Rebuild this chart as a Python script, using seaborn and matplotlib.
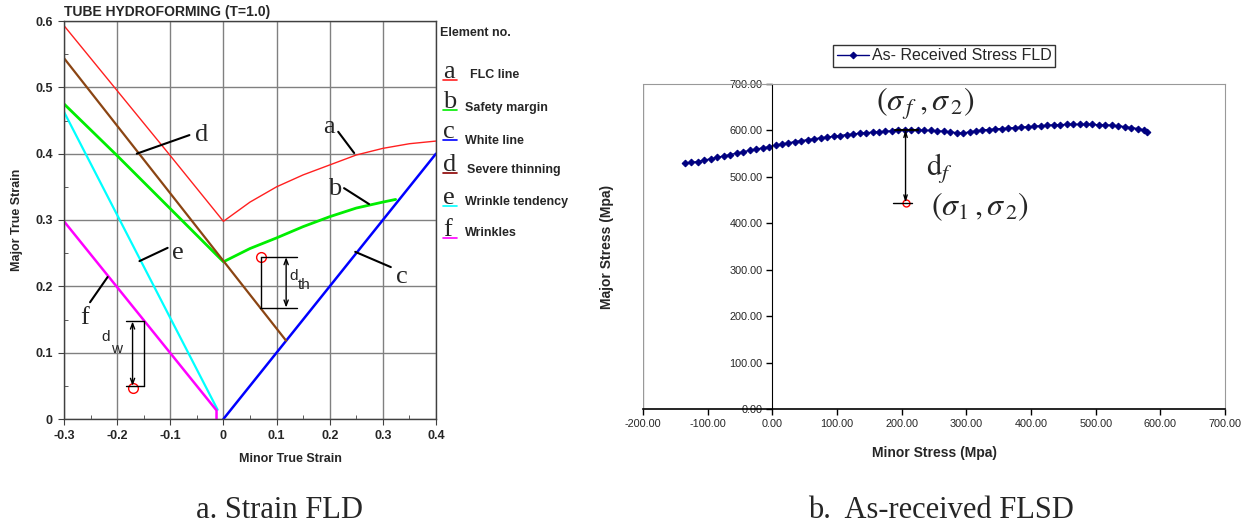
import matplotlib
matplotlib.use('Agg')
import matplotlib.pyplot as plt
import seaborn as sns
import pandas as pd
from matplotlib.lines import Line2D
from matplotlib.ticker import MultipleLocator, FormatStrFormatter

# ---------------- Strain FLD data (left) ----------------
flc_x = [-0.3, -0.2, -0.1, 0.0, 0.05, 0.1, 0.15, 0.2, 0.25, 0.3, 0.35, 0.4]
flc_y = [0.593, 0.495, 0.397, 0.298, 0.327, 0.350, 0.368, 0.383, 0.398, 0.408, 0.415, 0.419]
safety_x = [-0.3, -0.2, -0.1, 0.0, 0.05, 0.1, 0.15, 0.2, 0.25, 0.3, 0.324]
safety_y = [0.475, 0.397, 0.317, 0.237, 0.257, 0.273, 0.290, 0.305, 0.318, 0.327, 0.331]
white_x = [0.0, 0.4]
white_y = [0.0, 0.4]
thin_x = [-0.3, 0.118]
thin_y = [0.544, 0.118]
wtend_x = [-0.3, -0.011]
wtend_y = [0.463, 0.014]
wrink_x = [-0.3, -0.013, -0.013]
wrink_y = [0.298, 0.013, 0.0]

strain_lines = ['a', 'b', 'c', 'd', 'e', 'f']
strain_names = ['FLC line', 'Safety margin', 'White line', 'Severe thinning',
                'Wrinkle tendency', 'Wrinkles']
strain_colors = ['#FF2020', '#00EE00', '#0000FF', '#8B4513', '#00FFFF', '#FF00FF']
legend_under = ['#FF2020', '#00EE00', '#0000FF', '#8B0000', '#00FFFF', '#FF00FF']
strain_widths = [1.0, 2.0, 1.8, 1.6, 1.6, 1.8]

# letter labels and leader lines (data coords)
letter_pos = {'a': (0.199, 0.440), 'b': (0.210, 0.347), 'c': (0.336, 0.214),
              'd': (-0.041, 0.428), 'e': (-0.086, 0.250), 'f': (-0.261, 0.152)}
leader = {'a': ((0.216, 0.246), (0.433, 0.401)), 'b': ((0.227, 0.274), (0.348, 0.324)),
          'c': ((0.315, 0.248), (0.229, 0.252)), 'd': ((-0.064, -0.163), (0.428, 0.400)),
          'e': ((-0.105, -0.158), (0.258, 0.238)), 'f': ((-0.251, -0.218), (0.176, 0.214))}

# distance markers
dth_point = (0.071, 0.244)
dth_low = 0.168
dw_point = (-0.171, 0.047)
dw_high = 0.147

# ---------------- Stress FLSD data (right) ----------------
minor_stress = [-135, -125, -115, -105, -95, -85, -75, -65, -55, -45, -35, -25, -15, -5,
                5, 15, 25, 35, 45, 55, 65, 75, 85, 95, 105, 115, 125, 135, 145, 155,
                165, 175, 185, 195, 205, 215, 225, 235, 245, 255, 265, 275, 285, 295,
                305, 315, 325, 335, 345, 355, 365, 375, 385, 395, 405, 415, 425, 435,
                445, 455, 465, 475, 485, 495, 505, 515, 525, 535, 545, 555, 565, 575, 580]
major_stress = [529, 531, 533, 536, 539, 542, 545, 548, 551, 554, 557, 560, 562, 565,
                568, 571, 573, 576, 578, 580, 582, 584, 586, 587, 589, 591, 592, 594, 595, 596,
                597, 598, 599, 600, 601, 601, 601, 600, 600, 599, 598, 597, 595, 594,
                597, 599, 601, 602, 603, 604, 605, 606, 607, 608, 609, 610, 611, 612,
                612, 613, 613, 613, 613, 613, 612, 612, 611, 610, 608, 606, 604, 601, 597]
df_point = (206, 444)
df_top = 602

# ---------------- style ----------------
sns.set_style('white')
plt.rcParams['font.family'] = ['Liberation Sans', 'DejaVu Sans']
plt.rcParams['mathtext.fontset'] = 'stix'
plt.rcParams['axes.unicode_minus'] = False

W, H = 1246, 531
fig = plt.figure(figsize=(W / 100, H / 100), dpi=100)
fig.patch.set_facecolor('white')


def fx(px):
    return px / W


def fy(py):
    return 1 - py / H


SERIF = ['Liberation Serif', 'DejaVu Serif']

# ================= LEFT =================
axL = fig.add_axes([fx(64), fy(419), 372 / W, 398 / H])
series = [(flc_x, flc_y), (safety_x, safety_y), (white_x, white_y),
          (thin_x, thin_y), (wtend_x, wtend_y), (wrink_x, wrink_y)]
for (xs, ys), c, lw in zip(series, strain_colors, strain_widths):
    d = pd.DataFrame({'x': xs, 'y': ys})
    sns.lineplot(data=d, x='x', y='y', ax=axL, color=c, lw=lw, sort=False,
                 estimator=None, legend=False)

axL.set_xlim(-0.3, 0.4)
axL.set_ylim(0, 0.6)
xt = [-0.3, -0.2, -0.1, 0.0, 0.1, 0.2, 0.3, 0.4]
yt = [0.0, 0.1, 0.2, 0.3, 0.4, 0.5, 0.6]
axL.set_xticks(xt)
axL.set_xticklabels(['0' if v == 0 else f'{v:.1f}' for v in xt], fontweight='bold', fontsize=9)
axL.set_yticks(yt)
axL.set_yticklabels(['0' if v == 0 else f'{v:.1f}' for v in yt], fontweight='bold', fontsize=9)
axL.xaxis.set_minor_locator(MultipleLocator(0.05))
axL.yaxis.set_minor_locator(MultipleLocator(0.05))
axL.grid(True, which='major', color='#808080', lw=1)
axL.tick_params(which='major', direction='out', length=4, color='#404040', pad=4)
axL.tick_params(which='minor', direction='in', length=3, color='#404040')
axL.tick_params(bottom=True, left=True, which='both')
for s in axL.spines.values():
    s.set_color('#404040')
    s.set_linewidth(1)
axL.set_xlabel('Minor True Strain', fontweight='bold', fontsize=9)
axL.set_ylabel('Major True Strain', fontweight='bold', fontsize=9)
axL.xaxis.set_label_coords(0.61, -0.085)
axL.yaxis.set_label_coords(-0.11, 0.5)

for k in strain_lines:
    x, y = letter_pos[k]
    axL.text(x, y, k, family=SERIF, fontsize=19, ha='center', va='center')
    lx, ly = leader[k]
    axL.plot(lx, ly, color='black', lw=1.5)

# d_th marker
axL.plot([dth_point[0]], [dth_point[1]], 'o', ms=7, mfc='none', mec='red', mew=1)
axL.plot([dth_point[0], 0.138], [dth_point[1], dth_point[1]], color='black', lw=1)
axL.plot([dth_point[0] - 0.003, 0.138], [dth_low, dth_low], color='black', lw=1)
axL.plot([dth_point[0], dth_point[0]], [dth_point[1], dth_low], color='black', lw=1)
axL.annotate('', xy=(0.118, dth_low), xytext=(0.118, dth_point[1]),
             arrowprops=dict(arrowstyle='<->,head_length=0.4,head_width=0.15', lw=1,
                             color='black', shrinkA=0, shrinkB=0))
axL.text(0.125, 0.215, 'd', fontsize=11, ha='left', va='center')
axL.text(0.140, 0.202, 'th', fontsize=11, ha='left', va='center')

# d_w marker
axL.plot([dw_point[0]], [dw_point[1]], 'o', ms=7, mfc='none', mec='red', mew=1)
axL.plot([-0.184, -0.150], [dw_high, dw_high], color='black', lw=1)
axL.plot([-0.184, -0.150], [0.050, 0.050], color='black', lw=1)
axL.plot([-0.150, -0.150], [dw_high, 0.050], color='black', lw=1)
axL.annotate('', xy=(dw_point[0], 0.050), xytext=(dw_point[0], dw_high),
             arrowprops=dict(arrowstyle='<->,head_length=0.4,head_width=0.15', lw=1,
                             color='black', shrinkA=0, shrinkB=0))
axL.text(-0.222, 0.124, 'd', fontsize=11, ha='center', va='center')
axL.text(-0.202, 0.106, 'w', fontsize=11, ha='center', va='center')

# title
fig.text(fx(64), fy(12), 'TUBE HYDROFORMING (T=1.0)', fontsize=10, fontweight='bold',
         ha='left', va='center')

# element legend
fig.text(fx(440), fy(33), 'Element no.', fontsize=9, fontweight='bold', ha='left', va='center')
letter_base = [78, 108, 138, 171, 204, 236]
name_y = [75, 108, 141, 170, 202, 233]
name_x = [470, 465, 465, 467, 465, 465]
for k, nm, ub, ny, nx, uc in zip(strain_lines, strain_names, letter_base, name_y, name_x,
                                 legend_under):
    fig.text(fx(443), fy(ub), k, family=SERIF, fontsize=19, ha='left', va='baseline')
    fig.add_artist(Line2D([fx(443), fx(457)], [fy(ub + 2), fy(ub + 2)], color=uc, lw=1.2))
    fig.text(fx(nx), fy(ny), nm, fontsize=9, fontweight='bold', ha='left', va='center')

# ================= RIGHT =================
axR = fig.add_axes([fx(643), fy(409), 582 / W, 325 / H])
dfr = pd.DataFrame({'Minor': minor_stress, 'Major': major_stress})
sns.lineplot(data=dfr, x='Minor', y='Major', ax=axR, color='#000080', lw=1,
             marker='D', markersize=3.4, markeredgecolor='#000080', sort=False,
             estimator=None, label='As- Received Stress FLD')
axR.set_xlim(-200, 700)
axR.set_ylim(0, 700)
axR.xaxis.set_major_locator(MultipleLocator(100))
axR.yaxis.set_major_locator(MultipleLocator(100))
axR.xaxis.set_major_formatter(FormatStrFormatter('%.2f'))
axR.yaxis.set_major_formatter(FormatStrFormatter('%.2f'))
axR.tick_params(axis='both', direction='out', length=4, width=1, color='black',
                labelsize=7.8, pad=3)
axR.tick_params(bottom=True, left=True)
axR.spines['left'].set_position(('data', 0))
axR.spines['left'].set_color('black')
axR.spines['bottom'].set_color('black')
axR.spines['bottom'].set_linewidth(1.2)
for s in ['top', 'right']:
    axR.spines[s].set_color('#999999')
axR.axvline(-200, color='#999999', lw=1)
axR.set_xlabel('Minor Stress (Mpa)', fontweight='bold', fontsize=10)
axR.set_ylabel('Major Stress (Mpa)', fontweight='bold', fontsize=10)
axR.xaxis.set_label_coords(0.5, -0.115)
axR.yaxis.set_label_coords(-0.05, 0.5)
axR.grid(False)

# d_f marker
axR.plot([df_point[0]], [df_point[1]], 'o', ms=5, mfc='none', mec='red', mew=1)
axR.plot([df_point[0] - 19, df_point[0] + 10], [df_point[1], df_point[1]], color='black', lw=1)
axR.plot([df_point[0] - 16, df_point[0] + 20], [df_top, df_top], color='black', lw=1.5)
axR.annotate('', xy=(df_point[0], df_point[1]), xytext=(df_point[0], df_top),
             arrowprops=dict(arrowstyle='<->,head_length=0.4,head_width=0.12', lw=1,
                             color='black', shrinkA=0, shrinkB=0))
axR.text(236, 657, r'$(\sigma_{\,f}\;,\sigma_{\,2})$', fontsize=23, ha='center', va='center')
axR.text(258, 517, r'$\mathrm{d}_f$', fontsize=22, ha='center', va='center')
axR.text(321, 435, r'$(\sigma_{1}\,,\sigma_{\,2})$', fontsize=23, ha='center', va='center')

leg = axR.legend(loc='center', bbox_to_anchor=(fx(944), fy(56)), bbox_transform=fig.transFigure,
                 frameon=True, fancybox=False, edgecolor='black', fontsize=11.5,
                 handlelength=2.0, borderpad=0.25, handletextpad=0.2)
leg.get_frame().set_linewidth(1)

# captions
fig.text(fx(279), fy(510), 'a. Strain FLD', family=SERIF, fontsize=22, ha='center', va='center')
fig.text(fx(941), fy(510), 'b.  As-received FLSD', family=SERIF, fontsize=22,
         ha='center', va='center')

fig.savefig('out.png', dpi=100, facecolor='white')
